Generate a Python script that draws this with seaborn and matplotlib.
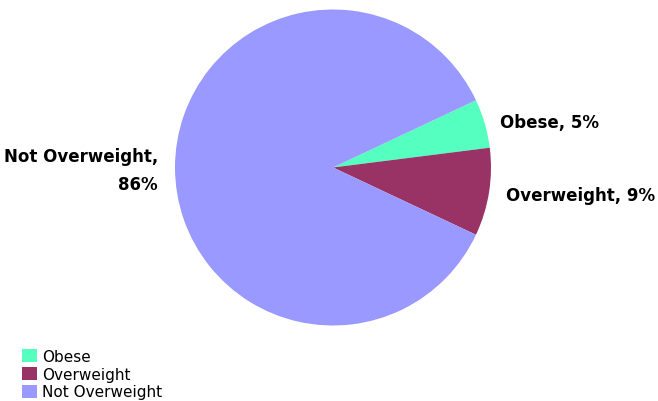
import matplotlib
matplotlib.use("Agg")
import matplotlib.pyplot as plt
import seaborn as sns
from matplotlib.patches import Patch

categories = ["Obese", "Overweight", "Not Overweight"]
shares = [5, 9, 86]
slice_labels = ["Obese, 5%", "Overweight, 9%", "Not Overweight,\n86%"]
colors = ["#55FFBF", "#993366", "#9999FF"]

sns.set_theme(style="white")
plt.rcParams["font.family"] = ["DejaVu Sans"]
palette = sns.color_palette(colors)

W, H = 658, 402
fig = plt.figure(figsize=(W / 100, H / 100), dpi=100)
ax = fig.add_axes([0, 0, 1, 1])

# Centre the two small slices on the horizontal axis, going clockwise
cx, cy, r = 333, H - 168.5, 158
start = (shares[0] + shares[1]) / 100 * 360 / 2
ax.pie(shares, colors=palette, startangle=start, counterclock=False,
       center=(cx, cy), radius=r, frame=True,
       wedgeprops=dict(linewidth=0))
ax.set_xlim(0, W)
ax.set_ylim(0, H)
ax.set_aspect("equal")
ax.axis("off")

label_style = dict(fontsize=12, fontweight="bold", color="black")
ax.text(500, H - 123, slice_labels[0], ha="left", va="center", **label_style)
ax.text(506, H - 196, slice_labels[1], ha="left", va="center", **label_style)
ax.text(158, H - 171, slice_labels[2], ha="right", va="center",
        multialignment="right", linespacing=1.7, **label_style)

handles = [Patch(facecolor=c, edgecolor="none") for c in palette]
leg = ax.legend(handles, categories, loc="lower left", bbox_to_anchor=(20 / W, 0),
                frameon=False, fontsize=11, handlelength=1.0, handleheight=0.9,
                handletextpad=0.35, labelspacing=0.18, borderpad=0.1,
                borderaxespad=0)
for t in leg.get_texts():
    t.set_color("black")

fig.savefig("out.png", dpi=100)
